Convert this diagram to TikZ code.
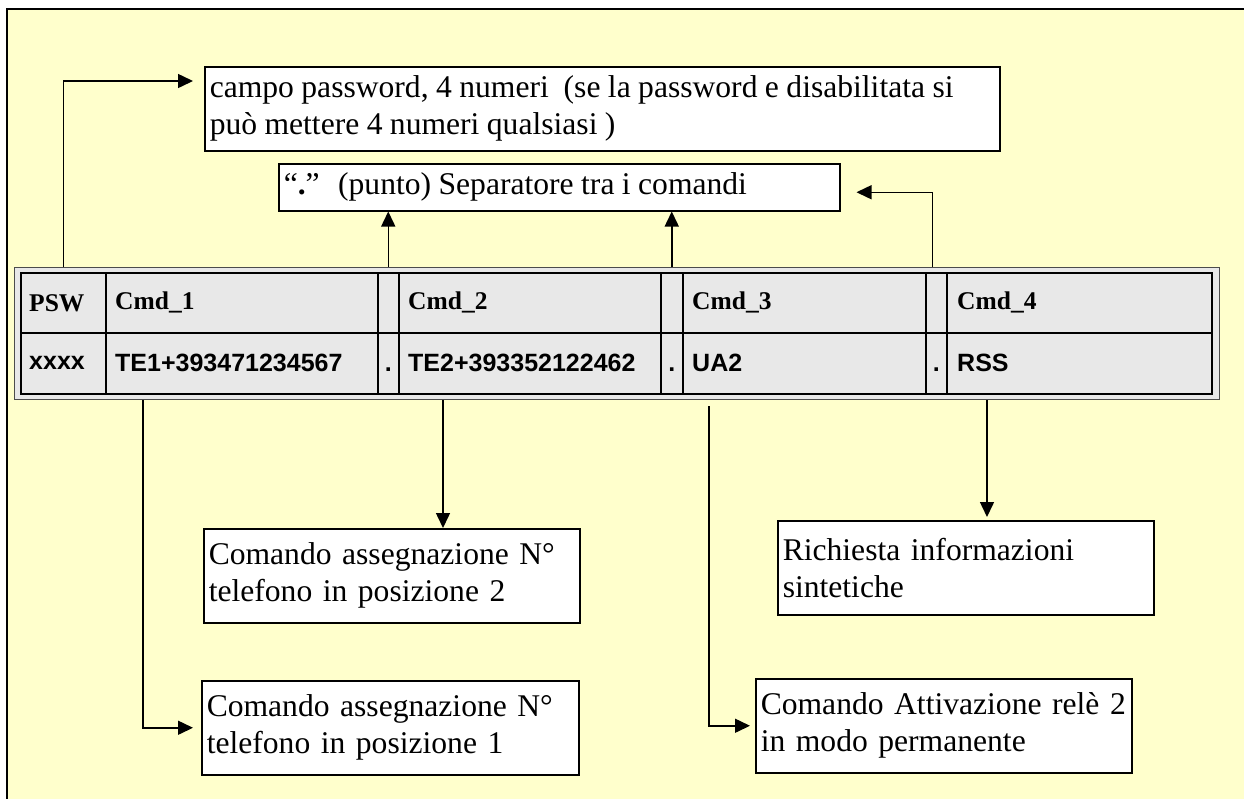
\documentclass[tikz,border=0pt]{standalone}
\usepackage{fontspec}
\setmainfont{Liberation Serif}
\newfontfamily\arialf{Liberation Sans}
\usetikzlibrary{arrows.meta,calc}
\definecolor{bgyellow}{HTML}{FFFFCC}
\definecolor{cellgray}{HTML}{E8E8E8}
\tikzset{
 txtbox/.style={draw=black, line width=1.5pt, fill=white, anchor=north west, inner xsep=5pt, inner ysep=0pt, align=left, font=\fontsize{31.6}{36.8}\selectfont\frenchspacing},
 cellbox/.style={draw=black, line width=1.5pt, fill=cellgray, inner sep=0pt, anchor=north west},
 hdr/.style={anchor=west, inner sep=0pt, font=\fontsize{25.5}{30}\selectfont\bfseries},
 dat/.style={anchor=west, inner sep=0pt, font=\fontsize{25}{30}\selectfont\arialf\bfseries},
 arr/.style={line width=1.5pt, -{Triangle[length=15pt,width=14pt]}},
}
\begin{document}
\begin{tikzpicture}[x=1pt,y=-1pt]
\useasboundingbox (0,0) rectangle (1244,798);
\clip (0,0) rectangle (1244,798);
% frame
\draw[line width=2pt, fill=bgyellow] (7,9) rectangle (1260,810);
% table
\node[draw=black!70, line width=1.2pt, fill=cellgray, minimum width=1205pt, minimum height=132pt, anchor=north west, inner sep=0pt] (tblo) at (14,267) {};
% header row
\node[cellbox, minimum width=85pt, minimum height=60pt] (hpsw) at (20,272) {};
\node[cellbox, minimum width=272pt, minimum height=60pt] (hc1) at (105,272) {};
\node[cellbox, minimum width=21pt, minimum height=60pt] (hd1) at (377,272) {};
\node[cellbox, minimum width=262pt, minimum height=60pt] (hc2) at (398,272) {};
\node[cellbox, minimum width=22pt, minimum height=60pt] (hd2) at (660,272) {};
\node[cellbox, minimum width=243pt, minimum height=60pt] (hc3) at (682,272) {};
\node[cellbox, minimum width=21pt, minimum height=60pt] (hd3) at (925,272) {};
\node[cellbox, minimum width=265pt, minimum height=60pt] (hc4) at (946,272) {};
% data row
\node[cellbox, minimum width=85pt, minimum height=61pt] (dpsw) at (20,332) {};
\node[cellbox, minimum width=272pt, minimum height=61pt] (dc1) at (105,332) {};
\node[cellbox, minimum width=21pt, minimum height=61pt] (dd1) at (377,332) {};
\node[cellbox, minimum width=262pt, minimum height=61pt] (dc2) at (398,332) {};
\node[cellbox, minimum width=22pt, minimum height=61pt] (dd2) at (660,332) {};
\node[cellbox, minimum width=243pt, minimum height=61pt] (dc3) at (682,332) {};
\node[cellbox, minimum width=21pt, minimum height=61pt] (dd3) at (925,332) {};
\node[cellbox, minimum width=265pt, minimum height=61pt] (dc4) at (946,332) {};
% cell texts
\node[hdr] (tpsw) at ([xshift=9pt]hpsw.west) {PSW};
\node[hdr] (tc1) at ([xshift=10pt]hc1.west) {Cmd\_1};
\node[hdr] (tc2) at ([xshift=10pt]hc2.west) {Cmd\_2};
\node[hdr] (tc3) at ([xshift=10pt]hc3.west) {Cmd\_3};
\node[hdr] (tc4) at ([xshift=11pt]hc4.west) {Cmd\_4};
\node[dat] (vpsw) at ([xshift=9pt]dpsw.west) {xxxx};
\node[dat] (vc1) at ([xshift=10pt]dc1.west) {TE1+393471234567};
\node[dat] (vc2) at ([xshift=10pt]dc2.west) {TE2+393352122462};
\node[dat] (vc3) at ([xshift=10pt]dc3.west) {UA2};
\node[dat] (vc4) at ([xshift=11pt]dc4.west) {RSS};
\node[dat, anchor=base] (vd1) at (dd1.center |- vc1.base) {.};
\node[dat, anchor=base] (vd2) at (dd2.center |- vc1.base) {.};
\node[dat, anchor=base] (vd3) at (dd3.center |- vc1.base) {.};
% text boxes
\node[txtbox, minimum width=795pt, minimum height=84pt, text width=785pt] (pwd) at (204,66)
 {\spaceskip=0.235em\mbox{campo password, 4 numeri\ \ (se la password e disabilitata si}\\\mbox{può mettere 4 numeri qualsiasi )}};
\node[txtbox, minimum width=561pt, minimum height=47pt, text width=551pt] (sep) at (278,163)
 {\spaceskip=0.235em\mbox{“{\bfseries.}”\hspace{0.35em}\ (punto) Separatore tra i comandi}};
\node[txtbox, minimum width=376pt, minimum height=94pt, text width=366pt] (b2) at (203,528)
 {\mbox{Comando assegnazione N°}\\\mbox{telefono in posizione 2}};
\node[txtbox, minimum width=377pt, minimum height=94pt, text width=367pt] (b1) at (201,680)
 {\mbox{Comando assegnazione N°}\\\mbox{telefono in posizione 1}};
\node[txtbox, minimum width=376pt, minimum height=94pt, text width=366pt] (b4) at (777,520)
 {\mbox{Richiesta informazioni}\\\mbox{sintetiche}};
\node[txtbox, minimum width=376pt, minimum height=94pt, text width=366pt] (b3) at (755,678)
 {\mbox{Comando Attivazione relè 2}\\\mbox{in modo permanente}};
% connector helper coordinates
\coordinate (kpsw) at ($(pwd.north west)+(-11,15)$);
\coordinate (ksep) at ($(sep.east)+(16,5)$);
\coordinate (s1) at ($(tblo.south -| hc1.west)+(38,0)$);
\coordinate (s2) at ($(tblo.south -| hc2.west)+(45,0)$);
\coordinate (s3) at ($(tblo.south -| hc3.west)+(27,6)$);
\coordinate (s4) at ($(tblo.south -| hc4.west)+(41,0)$);
% arrows up
\draw[arr] (tblo.north -| hpsw.center) |- (kpsw);
\draw[arr] (tblo.north -| hd1.center) -- (sep.south -| hd1.center);
\draw[arr] (tblo.north -| hd2.center) -- (sep.south -| hd2.center);
\draw[arr] ($(tblo.north -| hd3.center)+(-4,0)$) |- (ksep);
% arrows down
\draw[arr] (s1) |- ($(b1.west)+(-8,0)$);
\draw[arr] (s2) -- (s2 |- b2.north);
\draw[arr] (s3) |- ($(b3.west)+(-5,0)$);
\draw[arr] (s4) -- ($(s4 |- b4.north)+(0,-3)$);
\end{tikzpicture}
\end{document}
